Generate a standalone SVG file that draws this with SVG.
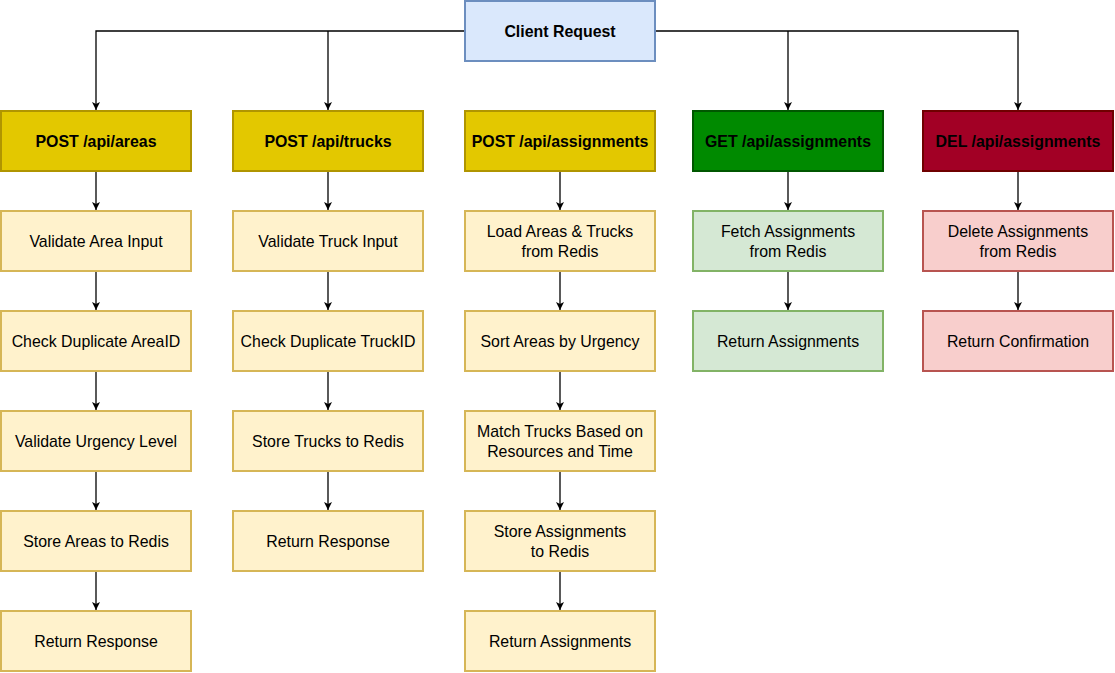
<svg xmlns="http://www.w3.org/2000/svg" width="1115" height="673" viewBox="0 0 1115 673">
<style>
text{font-family:"Liberation Sans",Arial,sans-serif;font-size:15.9px;text-anchor:middle;dominant-baseline:central;fill:#000}
.b{font-weight:bold}
.cl{fill:#dae8fc;stroke:#6c8ebf;stroke-width:2}
.hy{fill:#e3c800;stroke:#b09500;stroke-width:2}
.hg{fill:#008a00;stroke:#005700;stroke-width:2}
.hr{fill:#a20025;stroke:#6f0000;stroke-width:2}
.y{fill:#fff2cc;stroke:#d6b656;stroke-width:2}
.g{fill:#d5e8d4;stroke:#82b366;stroke-width:2}
.r{fill:#f8cecc;stroke:#b85450;stroke-width:2}
.e{fill:none;stroke:#000;stroke-width:1.3}
</style>
<defs>
<marker id="a" markerWidth="10" markerHeight="10" refX="9" refY="5" orient="auto" markerUnits="userSpaceOnUse">
<path d="M1,1 L9,5 L1,9 L3,5 Z" fill="#000"/>
</marker>
</defs>
<g id="connectors">
<path class="e" d="M465,31 H96 V110" marker-end="url(#a)"/>
<path class="e" d="M328,31 V110" marker-end="url(#a)"/>
<path class="e" d="M655,31 H1018 V110" marker-end="url(#a)"/>
<path class="e" d="M788,31 V110" marker-end="url(#a)"/>
<path class="e" d="M96,171 V210" marker-end="url(#a)"/>
<path class="e" d="M96,271 V310" marker-end="url(#a)"/>
<path class="e" d="M96,371 V410" marker-end="url(#a)"/>
<path class="e" d="M96,471 V510" marker-end="url(#a)"/>
<path class="e" d="M96,571 V610" marker-end="url(#a)"/>
<path class="e" d="M328,171 V210" marker-end="url(#a)"/>
<path class="e" d="M328,271 V310" marker-end="url(#a)"/>
<path class="e" d="M328,371 V410" marker-end="url(#a)"/>
<path class="e" d="M328,471 V510" marker-end="url(#a)"/>
<path class="e" d="M560,171 V210" marker-end="url(#a)"/>
<path class="e" d="M560,271 V310" marker-end="url(#a)"/>
<path class="e" d="M560,371 V410" marker-end="url(#a)"/>
<path class="e" d="M560,471 V510" marker-end="url(#a)"/>
<path class="e" d="M560,571 V610" marker-end="url(#a)"/>
<path class="e" d="M788,171 V210" marker-end="url(#a)"/>
<path class="e" d="M788,271 V310" marker-end="url(#a)"/>
<path class="e" d="M1018,171 V210" marker-end="url(#a)"/>
<path class="e" d="M1018,271 V310" marker-end="url(#a)"/>
</g>
<g id="client"><rect class="cl" x="465" y="1" width="190" height="60"/><text class="b" x="560" y="31">Client Request</text></g>
<g id="h1"><rect class="hy" x="1" y="111" width="190" height="60"/><text class="b" x="96" y="141">POST /api/areas</text></g>
<g id="h2"><rect class="hy" x="233" y="111" width="190" height="60"/><text class="b" x="328" y="141">POST /api/trucks</text></g>
<g id="h3"><rect class="hy" x="465" y="111" width="190" height="60"/><text class="b" x="560" y="141">POST /api/assignments</text></g>
<g id="h4"><rect class="hg" x="693" y="111" width="190" height="60"/><text class="b" x="788" y="141">GET /api/assignments</text></g>
<g id="h5"><rect class="hr" x="923" y="111" width="190" height="60"/><text class="b" x="1018" y="141">DEL /api/assignments</text></g>

<g id="a1"><rect class="y" x="1" y="211" width="190" height="60"/><text x="96" y="241">Validate Area Input</text></g>
<g id="a2"><rect class="y" x="1" y="311" width="190" height="60"/><text x="96" y="341">Check Duplicate AreaID</text></g>
<g id="a3"><rect class="y" x="1" y="411" width="190" height="60"/><text x="96" y="441">Validate Urgency Level</text></g>
<g id="a4"><rect class="y" x="1" y="511" width="190" height="60"/><text x="96" y="541">Store Areas to Redis</text></g>
<g id="a5"><rect class="y" x="1" y="611" width="190" height="60"/><text x="96" y="641">Return Response</text></g>

<g id="t1"><rect class="y" x="233" y="211" width="190" height="60"/><text x="328" y="241">Validate Truck Input</text></g>
<g id="t2"><rect class="y" x="233" y="311" width="190" height="60"/><text x="328" y="341">Check Duplicate TruckID</text></g>
<g id="t3"><rect class="y" x="233" y="411" width="190" height="60"/><text x="328" y="441">Store Trucks to Redis</text></g>
<g id="t4"><rect class="y" x="233" y="511" width="190" height="60"/><text x="328" y="541">Return Response</text></g>

<g id="s1"><rect class="y" x="465" y="211" width="190" height="60"/><text x="560" y="231">Load Areas &amp; Trucks</text><text x="560" y="251">from Redis</text></g>
<g id="s2"><rect class="y" x="465" y="311" width="190" height="60"/><text x="560" y="341">Sort Areas by Urgency</text></g>
<g id="s3"><rect class="y" x="465" y="411" width="190" height="60"/><text x="560" y="431">Match Trucks Based on</text><text x="560" y="451">Resources and Time</text></g>
<g id="s4"><rect class="y" x="465" y="511" width="190" height="60"/><text x="560" y="531">Store Assignments</text><text x="560" y="551">to Redis</text></g>
<g id="s5"><rect class="y" x="465" y="611" width="190" height="60"/><text x="560" y="641">Return Assignments</text></g>

<g id="g1"><rect class="g" x="693" y="211" width="190" height="60"/><text x="788" y="231">Fetch Assignments</text><text x="788" y="251">from Redis</text></g>
<g id="g2"><rect class="g" x="693" y="311" width="190" height="60"/><text x="788" y="341">Return Assignments</text></g>

<g id="d1"><rect class="r" x="923" y="211" width="190" height="60"/><text x="1018" y="231">Delete Assignments</text><text x="1018" y="251">from Redis</text></g>
<g id="d2"><rect class="r" x="923" y="311" width="190" height="60"/><text x="1018" y="341">Return Confirmation</text></g>
</svg>
